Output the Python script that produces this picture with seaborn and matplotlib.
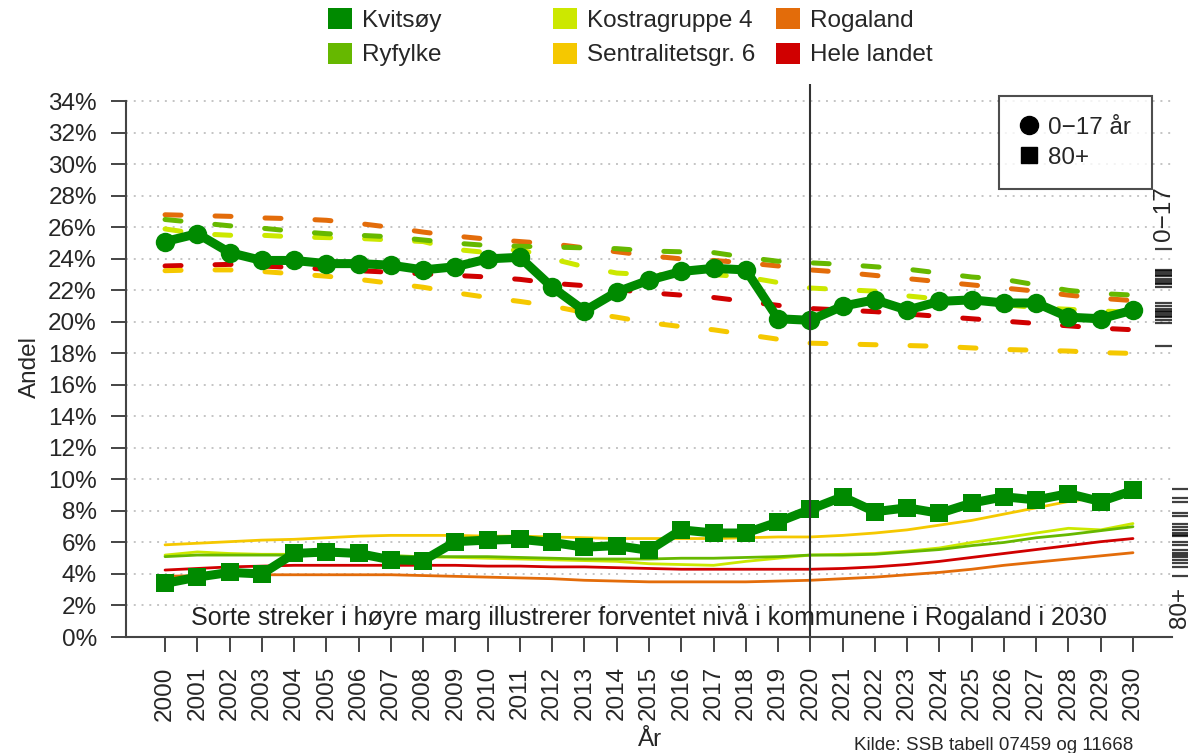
import numpy as np
import pandas as pd
import matplotlib
matplotlib.use("Agg")
import matplotlib.pyplot as plt
from matplotlib.patches import Patch
from matplotlib.lines import Line2D
import seaborn as sns

# ==========================================
# Data
# ==========================================
years = list(range(2000, 2031))

regions = ["Kvitsøy", "Ryfylke", "Kostragruppe 4", "Sentralitetsgr. 6", "Rogaland", "Hele landet"]
region_colors = ["#008a00", "#66b800", "#cce800", "#f5c800", "#e36c0a", "#d00000"]

# Andel 0-17 år (%)
kvitsoy_0_17 = [25.1, 25.6, 24.4, 23.9, 23.9, 23.7, 23.7, 23.6, 23.3, 23.5, 24.0, 24.1, 22.2, 20.7, 21.9, 22.65,
                23.2, 23.4, 23.3, 20.2, 20.1, 21.0, 21.4, 20.75, 21.3, 21.4, 21.2, 21.2, 20.3, 20.2, 20.75]
ryfylke_0_17 = [26.5, 26.3, 26.1, 25.95, 25.75, 25.6, 25.5, 25.4, 25.2, 25.0, 24.85, 24.8, 24.75, 24.7, 24.65, 24.5,
                24.45, 24.4, 24.1, 23.85, 23.75, 23.65, 23.5, 23.35, 23.1, 22.85, 22.7, 22.35, 22.0, 21.8, 21.7]
kostra4_0_17 = [25.9, 25.6, 25.5, 25.5, 25.4, 25.35, 25.3, 25.2, 25.1, 24.6, 24.4, 24.6, 24.0, 23.5, 23.1, 23.0,
                23.0, 23.0, 22.85, 22.5, 22.15, 22.05, 21.95, 21.65, 21.45, 21.3, 21.1, 20.9, 20.8, 20.7, 20.6]
sentral6_0_17 = [23.25, 23.3, 23.3, 23.2, 23.05, 22.9, 22.7, 22.45, 22.2, 21.85, 21.55, 21.3, 21.0, 20.6, 20.3, 19.95,
                 19.7, 19.5, 19.2, 18.9, 18.65, 18.6, 18.55, 18.5, 18.45, 18.35, 18.25, 18.2, 18.15, 18.05, 18.0]
rogaland_0_17 = [26.8, 26.75, 26.7, 26.6, 26.55, 26.45, 26.25, 26.0, 25.7, 25.45, 25.25, 25.1, 24.95, 24.7, 24.45, 24.2,
                 24.0, 23.9, 23.75, 23.55, 23.3, 23.15, 22.95, 22.75, 22.55, 22.35, 22.15, 21.95, 21.7, 21.5, 21.35]
landet_0_17 = [23.55, 23.6, 23.65, 23.55, 23.45, 23.35, 23.25, 23.15, 23.05, 22.95, 22.85, 22.7, 22.45, 22.3, 22.05, 21.85,
               21.7, 21.55, 21.3, 21.05, 20.85, 20.75, 20.65, 20.5, 20.35, 20.2, 20.05, 19.9, 19.75, 19.6, 19.5]

# Andel 80+ (%)
kvitsoy_80 = [3.4, 3.8, 4.1, 4.0, 5.3, 5.4, 5.3, 4.9, 4.85, 6.05, 6.15, 6.2, 6.0, 5.7, 5.8, 5.5,
              6.8, 6.6, 6.6, 7.3, 8.1, 8.9, 7.95, 8.2, 7.85, 8.5, 8.9, 8.7, 9.1, 8.6, 9.3]
ryfylke_80 = [5.1, 5.2, 5.2, 5.2, 5.2, 5.2, 5.2, 5.15, 5.1, 5.1, 5.1, 5.05, 5.0, 4.95, 4.95, 4.95,
              5.0, 5.0, 5.05, 5.1, 5.2, 5.2, 5.25, 5.4, 5.55, 5.8, 6.0, 6.3, 6.5, 6.75, 7.0]
kostra4_80 = [5.2, 5.4, 5.3, 5.25, 5.25, 5.2, 5.2, 5.15, 5.1, 5.05, 5.0, 4.95, 4.9, 4.85, 4.8, 4.65,
              4.6, 4.55, 4.8, 5.0, 5.2, 5.25, 5.3, 5.45, 5.65, 6.0, 6.3, 6.6, 6.9, 6.8, 7.2]
sentral6_80 = [5.85, 5.95, 6.05, 6.15, 6.2, 6.3, 6.4, 6.45, 6.45, 6.45, 6.4, 6.4, 6.35, 6.3, 6.25, 6.25,
               6.25, 6.25, 6.3, 6.35, 6.35, 6.45, 6.6, 6.8, 7.1, 7.4, 7.8, 8.2, 8.6, 8.9, 9.1]
rogaland_80 = [3.85, 3.9, 3.9, 3.95, 3.95, 3.95, 3.95, 3.95, 3.9, 3.85, 3.8, 3.75, 3.7, 3.6, 3.55, 3.5,
               3.5, 3.5, 3.5, 3.55, 3.6, 3.7, 3.8, 3.95, 4.1, 4.3, 4.55, 4.75, 4.95, 5.15, 5.35]
landet_80 = [4.25, 4.35, 4.45, 4.5, 4.55, 4.55, 4.55, 4.55, 4.55, 4.55, 4.5, 4.5, 4.45, 4.45, 4.4, 4.35,
             4.3, 4.3, 4.3, 4.3, 4.3, 4.35, 4.45, 4.6, 4.8, 5.05, 5.3, 5.55, 5.8, 6.05, 6.25]

# Forventet nivå i kommunene i Rogaland i 2030 (høyre marg)
kommuner_2030_0_17 = [24.6, 23.3, 23.2, 23.1, 23.0, 22.9, 22.7, 22.6, 22.5, 22.4, 22.2, 21.2, 21.0, 20.8,
                      20.7, 20.6, 20.5, 20.4, 20.3, 20.1, 19.9, 18.5]
kommuner_2030_80 = [9.4, 8.8, 8.6, 7.9, 7.7, 7.2, 7.0, 6.8, 6.6, 6.5, 6.4, 6.05, 5.85, 5.5, 5.3, 5.2,
                    5.1, 4.9, 4.7, 4.45, 3.9]

yticks = list(range(0, 35, 2))

series_0_17 = [kvitsoy_0_17, ryfylke_0_17, kostra4_0_17, sentral6_0_17, rogaland_0_17, landet_0_17]
series_80 = [kvitsoy_80, ryfylke_80, kostra4_80, sentral6_80, rogaland_80, landet_80]

frames = []
for name, v017, v80 in zip(regions, series_0_17, series_80):
    frames.append(pd.DataFrame({"År": years, "Andel": v017, "Region": name, "Alder": "0-17"}))
    frames.append(pd.DataFrame({"År": years, "Andel": v80, "Region": name, "Alder": "80+"}))
df = pd.concat(frames, ignore_index=True)

# ==========================================
# Figure
# ==========================================
sns.set_theme(style="white")
plt.rcParams["font.family"] = ["Liberation Sans", "DejaVu Sans"]
FS = 17.5

fig = plt.figure(figsize=(11.94, 7.53), dpi=100)
ax = fig.add_axes([126 / 1194, 1 - 637 / 753, (1172 - 126) / 1194, (637 - 84) / 753])

# reference lines first
ax.set_axisbelow(True)
ax.yaxis.grid(True, linestyle=(0, (1, 3)), color="#c4c4c4", linewidth=1.4)
ax.xaxis.grid(False)

# draw order: others first, Kvitsøy on top
draw_order = ["Hele landet", "Sentralitetsgr. 6", "Kostragruppe 4", "Rogaland", "Ryfylke"]
for name in draw_order:
    col = region_colors[regions.index(name)]
    d = df[(df["Region"] == name) & (df["Alder"] == "80+")]
    sns.lineplot(data=d, x="År", y="Andel", color=col, linewidth=2.0, ax=ax)
for name in draw_order:
    col = region_colors[regions.index(name)]
    d = df[(df["Region"] == name) & (df["Alder"] == "0-17")]
    sns.lineplot(data=d, x="År", y="Andel", color=col, linewidth=3.6,
                 linestyle=(0, (3.2, 6.8)), dash_capstyle="round", ax=ax)

kv = regions[0]
sns.lineplot(data=df[(df["Region"] == kv) & (df["Alder"] == "0-17")], x="År", y="Andel",
             color=region_colors[0], linewidth=6.5, marker="o", markersize=14, markeredgewidth=0, ax=ax)
sns.lineplot(data=df[(df["Region"] == kv) & (df["Alder"] == "80+")], x="År", y="Andel",
             color=region_colors[0], linewidth=6.5, marker="s", markersize=12.5, markeredgewidth=0, ax=ax)

ax.axvline(2020, color="#333333", linewidth=1.5)

# right margin marks
ax.hlines(kommuner_2030_0_17, 2030.68, 2031.21, color="black", linewidth=1.6, alpha=0.75, clip_on=False)
ax.hlines(kommuner_2030_80, 2031.21, 2031.72, color="black", linewidth=1.6, alpha=0.75, clip_on=False)
ax.text(2030.95, 26.9, "0\u221217", rotation=90, ha="center", va="center", fontsize=FS, clip_on=False)
ax.text(2031.47, 1.85, "80+", rotation=90, ha="center", va="center", fontsize=FS, clip_on=False)

ax.text(2015, 1.3, "Sorte streker i høyre marg illustrerer forventet nivå i kommunene i Rogaland i 2030",
        ha="center", va="center", fontsize=18, color="#222222")

# axes
ax.set_xlim(1998.79, 2031.21)
ax.set_ylim(0, 35.1)
ax.set_xticks(years)
ax.set_xticklabels([str(y) for y in years], rotation=90, fontsize=FS)
ax.set_yticks(yticks)
ax.set_yticklabels([f"{v}%" for v in yticks], fontsize=FS)
ax.tick_params(axis="both", which="major", length=11, width=1.4, color="#444444", pad=10,
               bottom=True, left=True)
ax.set_xlabel("")
ax.set_ylabel("")
for s in ["top", "right"]:
    ax.spines[s].set_visible(False)
for s in ["left", "bottom"]:
    ax.spines[s].set_color("#444444")
    ax.spines[s].set_linewidth(1.5)
ax.spines["left"].set_bounds(0, 34)

fig.text(30 / 1194, 1 - 367 / 753, "Andel", rotation=90, ha="center", va="center", fontsize=FS)
fig.text(650 / 1194, 1 - 740 / 753, "År", ha="center", va="center", fontsize=FS)
fig.text(1133 / 1194, 1 - 745 / 753, "Kilde: SSB tabell 07459 og 11668", ha="right", va="center", fontsize=13.5)

# top legend, three columns of equal width
col_x = [323, 548, 771]
for c in range(3):
    handles = [Patch(facecolor=region_colors[2 * c + r], edgecolor="none") for r in range(2)]
    labels = regions[2 * c:2 * c + 2]
    fig.legend(handles, labels, loc="upper left", bbox_to_anchor=(col_x[c] / 1194, 1 - 3 / 753),
               frameon=False, fontsize=FS, handlelength=1.0, handleheight=0.95, handletextpad=0.4,
               labelspacing=0.45, borderpad=0.2, borderaxespad=0)

# marker legend
mh = [Line2D([], [], color="black", marker="o", linestyle="none", markersize=13),
      Line2D([], [], color="black", marker="s", linestyle="none", markersize=12)]
leg = fig.legend(mh, ["0\u221217 år", "80+"], loc="upper right", bbox_to_anchor=(1152 / 1194, 1 - 96 / 753),
                 fontsize=FS, frameon=True, fancybox=False, edgecolor="#222222", handlelength=0.8,
                 handletextpad=0.4, labelspacing=0.33, borderpad=0.85, borderaxespad=0)
leg.get_frame().set_linewidth(1.5)

fig.savefig("out.png", dpi=100)
